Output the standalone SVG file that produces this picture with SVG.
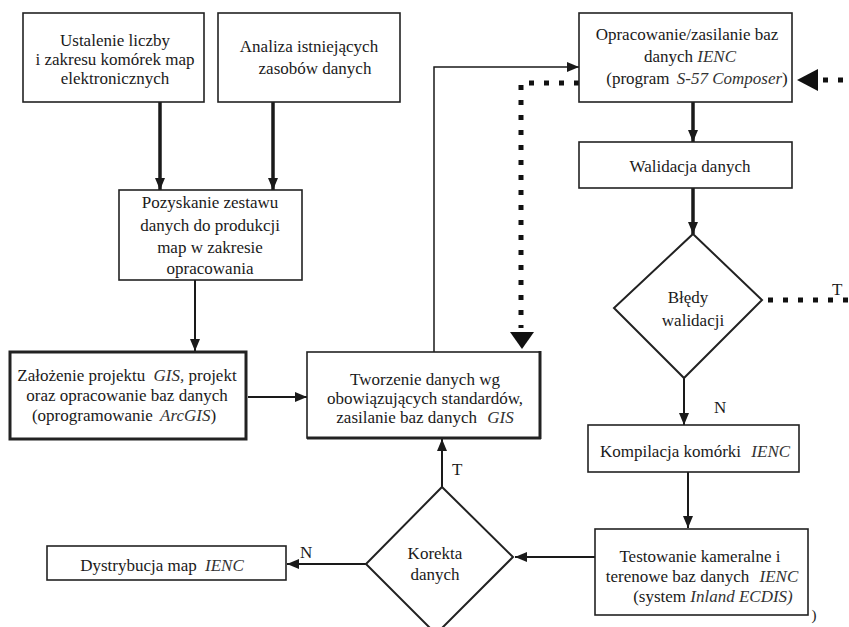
<svg xmlns="http://www.w3.org/2000/svg" width="849" height="627" viewBox="0 0 849 627">
<defs>
<style>
text{font-family:"Liberation Serif","Times New Roman",serif;font-size:17px;fill:#1a1a1a;text-anchor:middle}
.it{font-style:italic;fill:#333}
.box{fill:#fff;stroke:#222;stroke-width:1.6}
.thickbox{fill:#fff;stroke:#222;stroke-width:3}
.dia{fill:#fff;stroke:#222;stroke-width:2}
.ln{fill:none;stroke:#1a1a1a;stroke-width:2}
.thk{fill:none;stroke:#1a1a1a;stroke-width:3.5}
.thin{fill:none;stroke:#1a1a1a;stroke-width:1.5}
.dot{fill:none;stroke:#111;stroke-width:5;stroke-dasharray:5 10}
.lbl{text-anchor:start}
</style>
<marker id="ah" markerUnits="userSpaceOnUse" markerWidth="12" markerHeight="12" viewBox="0 0 12 12" refX="12" refY="6" orient="auto">
<path d="M0,1 L12,6 L0,11 Z" fill="#1a1a1a"/>
</marker>
</defs>

<g id="connectors">
<line class="thk" x1="160" y1="102" x2="160" y2="190" marker-end="url(#ah)"/>
<line class="thk" x1="273" y1="102" x2="273" y2="190" marker-end="url(#ah)"/>
<line class="ln" x1="195" y1="280" x2="195" y2="351" marker-end="url(#ah)"/>
<line class="ln" x1="248" y1="397" x2="307" y2="397" marker-end="url(#ah)"/>
<polyline class="thin" points="434,352 434,67 579,67" marker-end="url(#ah)"/>
<polyline class="dot" points="579,83 521,83 521,328"/>
<path d="M510,332 L534,332 L522,349 Z" fill="#111"/>
<path d="M797,80 L818,69 L818,91 Z" fill="#111"/>
<line class="dot" x1="823" y1="80" x2="849" y2="80"/>
<line class="thk" x1="693" y1="102" x2="693" y2="142" marker-end="url(#ah)"/>
<line class="thk" x1="693" y1="188" x2="693" y2="234" marker-end="url(#ah)"/>
<line class="dot" x1="768" y1="300" x2="849" y2="300"/>
<line class="ln" x1="684" y1="378" x2="684" y2="425" marker-end="url(#ah)"/>
<line class="ln" x1="688" y1="472" x2="688" y2="528" marker-end="url(#ah)"/>
<line class="ln" x1="595" y1="557" x2="515" y2="557" marker-end="url(#ah)"/>
<line class="ln" x1="442" y1="487" x2="442" y2="439" marker-end="url(#ah)"/>
<line class="ln" x1="366" y1="564" x2="287" y2="564" marker-end="url(#ah)"/>
<text class="lbl" x="832" y="295">T</text>
<text class="lbl" x="714" y="413">N</text>
<text class="lbl" x="452" y="475">T</text>
<text class="lbl" x="300" y="558">N</text>
</g>

<g id="n1">
<rect class="box" x="23" y="13" width="181" height="89"/>
<text x="115" y="46">Ustalenie liczby</text>
<text x="115" y="65">i zakresu komórek map</text>
<text x="115" y="84">elektronicznych</text>
</g>

<g id="n2">
<rect class="box" x="218" y="13" width="182" height="89"/>
<text x="309" y="52">Analiza istniejących</text>
<text x="315" y="74">zasobów danych</text>
</g>

<g id="n3">
<rect class="box" x="119" y="190" width="183" height="90"/>
<text x="210" y="208">Pozyskanie zestawu</text>
<text x="210" y="231">danych do produkcji</text>
<text x="210" y="253">map w zakresie</text>
<text x="210" y="274">opracowania</text>
</g>

<g id="n4">
<rect class="thickbox" x="10" y="352" width="236" height="87"/>
<text x="127" y="381">Założenie projektu <tspan class="it" dx="4">GIS,</tspan> projekt</text>
<text x="127" y="401">oraz opracowanie baz danych</text>
<text x="124" y="421">(oprogramowanie <tspan class="it" dx="3">ArcGIS</tspan>)</text>
</g>

<g id="n5">
<rect class="box" x="307" y="352" width="233" height="86"/>
<line x1="540" y1="351" x2="540" y2="439" stroke="#222" stroke-width="3"/>
<line x1="307" y1="438" x2="541" y2="438" stroke="#222" stroke-width="3"/>
<text x="425" y="385">Tworzenie danych wg</text>
<text x="425" y="404">obowiązujących standardów,</text>
<text x="425" y="423">zasilanie baz danych <tspan class="it" dx="6">GIS</tspan></text>
</g>

<g id="n6">
<rect class="box" x="579" y="13" width="213" height="89"/>
<text x="687" y="40">Opracowanie/zasilanie baz</text>
<text x="690" y="62">danych <tspan class="it">IENC</tspan></text>
<text x="697" y="84">(program <tspan class="it" dx="3">S-57 Composer</tspan>)</text>
</g>

<g id="n7">
<rect class="box" x="579" y="142" width="213" height="46"/>
<text x="690" y="172">Walidacja danych</text>
</g>

<g id="n8">
<polygon class="dia" points="693,234 762,300 684,378 614,308"/>
<text x="688" y="303">Błędy</text>
<text x="693" y="326">walidacji</text>
</g>

<g id="n9">
<rect class="box" x="588" y="425" width="211" height="47"/>
<text x="695" y="457">Kompilacja komórki <tspan class="it" dx="6">IENC</tspan></text>
</g>

<g id="n10">
<rect class="box" x="595" y="529" width="213" height="86"/>
<text x="700" y="562">Testowanie kameralne i</text>
<text x="702" y="582">terenowe baz danych <tspan class="it" dx="6">IENC</tspan></text>
<text x="713" y="602">(system <tspan class="it">Inland ECDIS)</tspan></text>
<text x="814" y="620" style="font-size:15px">)</text>
</g>

<g id="n11">
<polygon class="dia" points="442,487 513,557 436,634 366,564"/>
<text x="435" y="559">Korekta</text>
<text x="435" y="580">danych</text>
</g>

<g id="n12">
<rect class="box" x="47" y="546" width="239" height="34"/>
<text x="162" y="571">Dystrybucja map <tspan class="it" dx="4">IENC</tspan></text>
</g>
</svg>
